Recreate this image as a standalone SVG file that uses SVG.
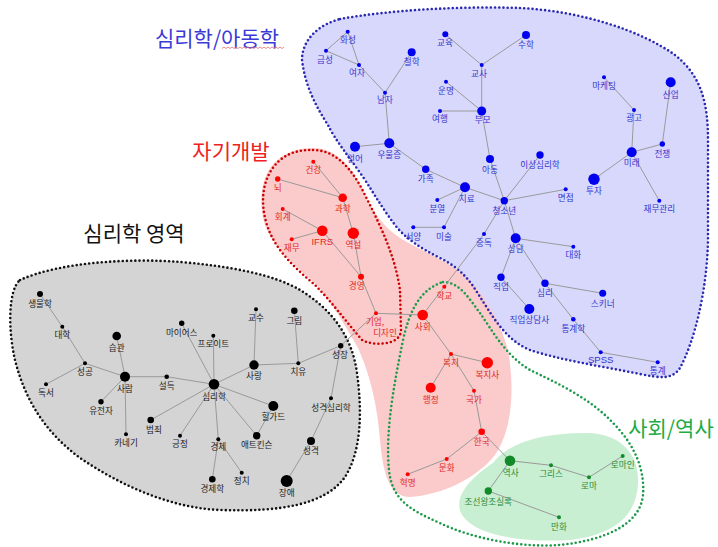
<svg xmlns="http://www.w3.org/2000/svg" width="718" height="547" viewBox="0 0 718 547">
<style>
text{font-family:"Noto Sans CJK KR","Noto Sans",sans-serif;font-size:8.6px;text-anchor:middle}
.title{font-size:21px}
.e line{stroke:#9a9a9a;stroke-width:1}
.b circle{fill:#0000ee}.b text{fill:#3434cc}
.r circle{fill:#ff0000}.r text{fill:#e02828}
.k circle{fill:#000}.k text{fill:#222}
.g circle{fill:#138a2a}.g text{fill:#2a8a3a}
.dot{fill:none;stroke-width:2.6;stroke-linecap:round;stroke-dasharray:0 4.2}
</style>
<rect width="718" height="547" fill="#fff"/>
<g id="regions">
<path d="M20,280 C60,262 130,258 180,262 C230,266 275,275 300,290 C330,308 352,335 357,373 C362,410 362,450 345,477 C325,505 280,512 220,510 C170,508 120,485 80,458 C45,432 25,400 15,360 C8,330 8,290 20,280 Z" fill="#d4d4d4"/>
<path d="M340,19 C390,10 460,6 520,8 C580,11 640,30 675,55 C700,75 708,100 708,140 L708,240 C707,290 695,340 680,368 C672,380 660,378 640,374 C600,366 560,360 530,350 C505,340 492,315 480,297 C470,280 460,268 440,258 C420,248 405,238 395,225 C380,205 375,195 363,177 C350,158 335,140 328,125 C315,105 305,85 302,60 C302,40 318,25 340,19 Z" fill="#d8d8fd"/>
<path d="M313,148 C335,148 352,165 365,195 C375,215 385,228 400,238 C420,250 440,258 455,268 C480,285 500,320 508,350 C515,390 512,430 495,455 C475,480 440,495 410,497 C390,497 383,475 380,440 C377,400 368,370 358,348 C345,325 330,300 318,286 C298,268 275,250 265,225 C257,200 262,170 280,158 C290,151 300,148 313,148 Z" fill="#fbcaca"/>
<path d="M493,463 C510,440 550,432 590,433 C622,435 640,455 638,485 C636,515 615,535 570,540 C520,543 475,535 462,515 C452,498 470,478 493,463 Z" fill="#c9efd3"/>
<path class="dot" stroke="#111" d="M20,280 C60,262 130,258 180,262 C230,266 275,275 300,290 C330,308 352,335 357,373 C362,410 362,450 345,477 C325,505 280,512 220,510 C170,508 120,485 80,458 C45,432 25,400 15,360 C8,330 8,290 20,280 Z"/>
<path class="dot" stroke="#2828b0" d="M340,19 C390,10 460,6 520,8 C580,11 640,30 675,55 C700,75 708,100 708,140 L708,240 C707,290 695,340 680,368 C672,380 660,378 640,374 C600,366 560,360 530,350 C505,340 492,315 480,297 C470,280 460,268 440,258 C420,248 405,238 395,225 C380,205 375,195 363,177 C350,158 335,140 328,125 C315,105 305,85 302,60 C302,40 318,25 340,19 Z"/>
<path class="dot" stroke="#cc0000" d="M313,150 C335,150 352,168 365,195 C380,225 395,255 400,290 L401,330 C401,346 372,346 362,340 C345,320 330,300 315,285 C295,268 275,250 267,225 C259,200 263,175 280,160 C290,152 300,150 313,150 Z"/>
<path class="dot" stroke="#1c9a4a" d="M443,282 C460,282 470,300 480,313 C492,330 505,355 530,370 C555,382 590,398 613,423 C635,445 645,470 643,495 C640,525 605,540 560,545 C520,548 470,538 440,523 C410,510 392,500 389,470 C385,430 395,380 402,345 C408,315 418,290 443,282 Z"/>
</g>
<g id="titles">
<text class="title" x="217" y="46" fill="#3a3ad8">심리학/아동학</text>
<path d="M222,48.5 l2,-1.5 l2,1.5 l2,-1.5 l2,1.5 l2,-1.5 l2,1.5 l2,-1.5 l2,1.5 l2,-1.5 l2,1.5 l2,-1.5 l2,1.5 l2,-1.5 l2,1.5 l2,-1.5 l2,1.5 l2,-1.5 l2,1.5 l2,-1.5 l2,1.5 l2,-1.5 l2,1.5 l2,-1.5 l2,1.5 l2,-1.5 l2,1.5 l2,-1.5 l2,1.5 l2,-1.5 l2,1.5 l2,-1.5" fill="none" stroke="#e07070" stroke-width="0.8"/>
<text class="title" x="231" y="159" fill="#ee2222">자기개발</text>
<text class="title" x="134" y="241" fill="#111">심리학 영역</text>
<text class="title" x="671" y="436" fill="#22aa44">사회/역사</text>
</g>
<g id="connectors" class="e">
<line x1="347.7" y1="31.7" x2="326" y2="50.7"/>
<line x1="347.7" y1="31.7" x2="359" y2="65"/>
<line x1="326" y1="50.7" x2="359" y2="65"/>
<line x1="359" y1="65" x2="385" y2="92.7"/>
<line x1="411.7" y1="52.3" x2="385" y2="92.7"/>
<line x1="385" y1="92.7" x2="389.3" y2="143.3"/>
<line x1="355" y1="146.7" x2="389.3" y2="143.3"/>
<line x1="389.3" y1="143.3" x2="425.7" y2="169.3"/>
<line x1="425.7" y1="169.3" x2="465" y2="187.3"/>
<line x1="437.3" y1="200" x2="465" y2="187.3"/>
<line x1="465" y1="187.3" x2="444" y2="227.3"/>
<line x1="413.3" y1="227.3" x2="444" y2="227.3"/>
<line x1="465" y1="187.3" x2="504.3" y2="200.7"/>
<line x1="445.3" y1="34.3" x2="481.7" y2="65"/>
<line x1="481.7" y1="65" x2="526" y2="35"/>
<line x1="481.7" y1="65" x2="481.7" y2="111"/>
<line x1="446" y1="81.7" x2="481.7" y2="111"/>
<line x1="440" y1="111" x2="481.7" y2="111"/>
<line x1="481.7" y1="111" x2="490" y2="159"/>
<line x1="490" y1="159" x2="504.3" y2="200.7"/>
<line x1="504.3" y1="200.7" x2="540" y2="155"/>
<line x1="504.3" y1="200.7" x2="565.7" y2="189.3"/>
<line x1="504.3" y1="200.7" x2="484" y2="234"/>
<line x1="504.3" y1="200.7" x2="515.7" y2="238.3"/>
<line x1="515.7" y1="238.3" x2="573.3" y2="246.7"/>
<line x1="515.7" y1="238.3" x2="501" y2="277.3"/>
<line x1="501" y1="277.3" x2="529.3" y2="309"/>
<line x1="515.7" y1="238.3" x2="545" y2="283.3"/>
<line x1="545" y1="283.3" x2="602.7" y2="293.3"/>
<line x1="545" y1="283.3" x2="573.3" y2="319.3"/>
<line x1="573.3" y1="319.3" x2="600.7" y2="352.3"/>
<line x1="600.7" y1="352.3" x2="657.7" y2="362.3"/>
<line x1="604" y1="77.3" x2="634" y2="110"/>
<line x1="634" y1="110" x2="631.7" y2="152.3"/>
<line x1="670.7" y1="82.3" x2="662.3" y2="144"/>
<line x1="631.7" y1="152.3" x2="662.3" y2="144"/>
<line x1="594" y1="179.3" x2="631.7" y2="152.3"/>
<line x1="631.7" y1="152.3" x2="659.3" y2="200.7"/>
<line x1="484" y1="234" x2="444.3" y2="286.7"/>
<line x1="313.3" y1="161.7" x2="342.7" y2="197.7"/>
<line x1="277.7" y1="179" x2="342.7" y2="197.7"/>
<line x1="342.7" y1="197.7" x2="353.3" y2="233.3"/>
<line x1="353.3" y1="233.3" x2="361" y2="276.7"/>
<line x1="282.7" y1="209" x2="322.3" y2="230.7"/>
<line x1="291.7" y1="239.3" x2="322.3" y2="230.7"/>
<line x1="322.3" y1="230.7" x2="361" y2="276.7"/>
<line x1="361" y1="276.7" x2="376" y2="313.3"/>
<line x1="376" y1="313.3" x2="422.7" y2="315"/>
<line x1="444.3" y1="286.7" x2="422.7" y2="315"/>
<line x1="422.7" y1="315" x2="451" y2="354"/>
<line x1="451" y1="354" x2="487.3" y2="362.7"/>
<line x1="451" y1="354" x2="430.7" y2="387.7"/>
<line x1="451" y1="354" x2="474" y2="390.7"/>
<line x1="474" y1="390.7" x2="481.7" y2="431.7"/>
<line x1="481.7" y1="431.7" x2="446.7" y2="459"/>
<line x1="446.7" y1="459" x2="407.7" y2="474.3"/>
<line x1="481.7" y1="431.7" x2="510" y2="460.7"/>
<line x1="510" y1="460.7" x2="551" y2="465.3"/>
<line x1="551" y1="465.3" x2="589" y2="477.3"/>
<line x1="589" y1="477.3" x2="622.7" y2="456"/>
<line x1="510" y1="460.7" x2="488.3" y2="491"/>
<line x1="488.3" y1="491" x2="559" y2="517.3"/>
<line x1="340.7" y1="345.7" x2="376" y2="313.3"/>
<line x1="40" y1="294" x2="62.3" y2="326.7"/>
<line x1="62.3" y1="326.7" x2="85" y2="363.3"/>
<line x1="85" y1="363.3" x2="46" y2="384.3"/>
<line x1="85" y1="363.3" x2="125" y2="376.7"/>
<line x1="116.7" y1="336" x2="125" y2="376.7"/>
<line x1="125" y1="376.7" x2="101" y2="401.7"/>
<line x1="125" y1="376.7" x2="126" y2="434.3"/>
<line x1="125" y1="376.7" x2="166.7" y2="376.7"/>
<line x1="166.7" y1="376.7" x2="214" y2="384.3"/>
<line x1="214" y1="384.3" x2="181.7" y2="323.3"/>
<line x1="214" y1="384.3" x2="213.3" y2="335.7"/>
<line x1="214" y1="384.3" x2="254" y2="365"/>
<line x1="214" y1="384.3" x2="273.3" y2="406"/>
<line x1="214" y1="384.3" x2="256.7" y2="435.7"/>
<line x1="214" y1="384.3" x2="218.3" y2="439.3"/>
<line x1="214" y1="384.3" x2="180" y2="435.7"/>
<line x1="214" y1="384.3" x2="150.7" y2="420"/>
<line x1="256" y1="309.3" x2="254" y2="365"/>
<line x1="254" y1="365" x2="298.3" y2="363.3"/>
<line x1="294.3" y1="310.7" x2="298.3" y2="363.3"/>
<line x1="298.3" y1="363.3" x2="340.7" y2="345.7"/>
<line x1="340.7" y1="345.7" x2="331" y2="398.3"/>
<line x1="331" y1="398.3" x2="311" y2="441"/>
<line x1="311" y1="441" x2="286.7" y2="481"/>
<line x1="273.3" y1="406" x2="256.7" y2="435.7"/>
<line x1="218.3" y1="439.3" x2="212.3" y2="479.3"/>
<line x1="218.3" y1="439.3" x2="241.7" y2="472.7"/>
</g>
<g id="nodes">
<g id="n-hwaseong" class="b"><circle cx="347.7" cy="31.7" r="2"/><text x="348" y="43.3">화성</text></g>
<g id="n-geumseong" class="b"><circle cx="326" cy="50.7" r="2"/><text x="325" y="63.3">금성</text></g>
<g id="n-yeoja" class="b"><circle cx="359" cy="65" r="2"/><text x="357" y="76">여자</text></g>
<g id="n-cheolhak" class="b"><circle cx="411.7" cy="52.3" r="4"/><text x="411.7" y="65">철학</text></g>
<g id="n-namja" class="b"><circle cx="385" cy="92.7" r="2"/><text x="385" y="103.3">남자</text></g>
<g id="n-gyoyuk" class="b"><circle cx="445.3" cy="34.3" r="3"/><text x="445" y="46">교육</text></g>
<g id="n-gyosa" class="b"><circle cx="481.7" cy="65" r="2"/><text x="479" y="76.6">교사</text></g>
<g id="n-suhak" class="b"><circle cx="526" cy="35" r="4"/><text x="526" y="48.3">수학</text></g>
<g id="n-unmyeong" class="b"><circle cx="446" cy="81.7" r="2"/><text x="446" y="94">운명</text></g>
<g id="n-yeohaeng" class="b"><circle cx="440" cy="111" r="2"/><text x="440" y="121.6">여행</text></g>
<g id="n-bumo" class="b"><circle cx="481.7" cy="111" r="4.5"/><text x="482.7" y="123.3">부모</text></g>
<g id="n-marketing" class="b"><circle cx="604" cy="77.3" r="2"/><text x="604" y="89.3">마케팅</text></g>
<g id="n-gwanggo" class="b"><circle cx="634" cy="110" r="2"/><text x="634" y="120.6">광고</text></g>
<g id="n-saneop" class="b"><circle cx="670.7" cy="82.3" r="5"/><text x="670.7" y="98.3">산업</text></g>
<g id="n-eoneo" class="b"><circle cx="355" cy="146.7" r="5"/><text x="355" y="161.6">언어</text></g>
<g id="n-uuljeung" class="b"><circle cx="389.3" cy="143.3" r="5"/><text x="389.3" y="157.6">우울증</text></g>
<g id="n-gajok" class="b"><circle cx="425.7" cy="169.3" r="3.7"/><text x="425.7" y="181.6">가족</text></g>
<g id="n-adong" class="b"><circle cx="490" cy="159" r="4"/><text x="490" y="173.3">아동</text></g>
<g id="n-chiryo" class="b"><circle cx="465" cy="187.3" r="5"/><text x="466.7" y="201.6">치료</text></g>
<g id="n-cheongsonyeon" class="b"><circle cx="504.3" cy="200.7" r="3.7"/><text x="504.3" y="214">청소년</text></g>
<g id="n-bunyeol" class="b"><circle cx="437.3" cy="200" r="2"/><text x="437.3" y="211.6">분열</text></g>
<g id="n-seoyang" class="b"><circle cx="413.3" cy="227.3" r="2"/><text x="413.3" y="240">서양</text></g>
<g id="n-misul" class="b"><circle cx="444" cy="227.3" r="2"/><text x="444" y="240">미술</text></g>
<g id="n-jungdok" class="b"><circle cx="484" cy="234" r="2"/><text x="484" y="246">중독</text></g>
<g id="n-sangdam" class="b"><circle cx="515.7" cy="238.3" r="5"/><text x="515.7" y="251.6">상담</text></g>
<g id="n-isangsimrihak" class="b"><circle cx="540" cy="155" r="3.7"/><text x="540" y="168.3">이상심리학</text></g>
<g id="n-myeonjeop" class="b"><circle cx="565.7" cy="189.3" r="2"/><text x="565.7" y="201">면접</text></g>
<g id="n-daehwa" class="b"><circle cx="573.3" cy="246.7" r="2"/><text x="573.3" y="258.3">대화</text></g>
<g id="n-mirae" class="b"><circle cx="631.7" cy="152.3" r="5"/><text x="631.7" y="166">미래</text></g>
<g id="n-jeonjaeng" class="b"><circle cx="662.3" cy="144" r="2.7"/><text x="662.3" y="156.6">전쟁</text></g>
<g id="n-tuja" class="b"><circle cx="594" cy="179.3" r="5.7"/><text x="594" y="194.3">투자</text></g>
<g id="n-jaemugwanri" class="b"><circle cx="659.3" cy="200.7" r="2"/><text x="659.3" y="212.3">재무관리</text></g>
<g id="n-jigeop" class="b"><circle cx="501" cy="277.3" r="3.7"/><text x="501" y="290">직업</text></g>
<g id="n-simri" class="b"><circle cx="545" cy="283.3" r="3.7"/><text x="545" y="296">심리</text></g>
<g id="n-skinner" class="b"><circle cx="602.7" cy="293.3" r="3.5"/><text x="602.7" y="306.6">스키너</text></g>
<g id="n-jigeopsangdamsa" class="b"><circle cx="529.3" cy="309" r="5"/><text x="529.3" y="322.6">직업상담사</text></g>
<g id="n-tonggyehak" class="b"><circle cx="573.3" cy="319.3" r="2.3"/><text x="573.3" y="331.6">통계학</text></g>
<g id="n-spss" class="b"><circle cx="600.7" cy="352.3" r="2"/><text x="600.7" y="363.3" style="font-family:'Liberation Sans',sans-serif;font-size:9.5px">SPSS</text></g>
<g id="n-tonggye" class="b"><circle cx="657.7" cy="362.3" r="2"/><text x="657.7" y="374.3">통계</text></g>
<g id="n-geongang" class="r"><circle cx="313.3" cy="161.7" r="2"/><text x="313.3" y="173.3">건강</text></g>
<g id="n-noe" class="r"><circle cx="277.7" cy="179" r="2.7"/><text x="277.7" y="191">뇌</text></g>
<g id="n-gwahak" class="r"><circle cx="342.7" cy="197.7" r="4.3"/><text x="342.7" y="211.6">과학</text></g>
<g id="n-hoegye" class="r"><circle cx="282.7" cy="209" r="2"/><text x="282.7" y="220">회계</text></g>
<g id="n-ifrs" class="r"><circle cx="322.3" cy="230.7" r="5.3"/><text x="322.3" y="245" style="font-family:'Liberation Sans',sans-serif;font-size:9.5px">IFRS</text></g>
<g id="n-yeokseol" class="r"><circle cx="353.3" cy="233.3" r="5.7"/><text x="353.3" y="248.3">역설</text></g>
<g id="n-jaemu" class="r"><circle cx="291.7" cy="239.3" r="2"/><text x="291.7" y="251">재무</text></g>
<g id="n-gyeongyeong" class="r"><circle cx="361" cy="276.7" r="3"/><text x="356.7" y="289.3">경영</text></g>
<g id="n-gieop" class="r"><circle cx="376" cy="313.3" r="2"/><text x="375" y="325">기업,</text><text x="385" y="336">디자인</text></g>
<g id="n-hakgyo" class="r"><circle cx="444.3" cy="286.7" r="2"/><text x="444.3" y="299">학교</text></g>
<g id="n-sahoe" class="r"><circle cx="422.7" cy="315" r="5.3"/><text x="422.7" y="330">사회</text></g>
<g id="n-bokji" class="r"><circle cx="451" cy="354" r="2"/><text x="451" y="366">복지</text></g>
<g id="n-bokjisa" class="r"><circle cx="487.3" cy="362.7" r="5.7"/><text x="487.3" y="377.6">복지사</text></g>
<g id="n-haengjeong" class="r"><circle cx="430.7" cy="387.7" r="5"/><text x="430.7" y="402.6">행정</text></g>
<g id="n-gukga" class="r"><circle cx="474" cy="390.7" r="2"/><text x="474" y="402.6">국가</text></g>
<g id="n-hanguk" class="r"><circle cx="481.7" cy="431.7" r="3.3"/><text x="481.7" y="445">한국</text></g>
<g id="n-munhwa" class="r"><circle cx="446.7" cy="459" r="2"/><text x="446.7" y="470.6">문화</text></g>
<g id="n-hyeongmyeong" class="r"><circle cx="407.7" cy="474.3" r="2"/><text x="407.7" y="486">혁명</text></g>
<g id="n-yeoksa" class="g"><circle cx="510" cy="460.7" r="5.3"/><text x="510.7" y="475.6">역사</text></g>
<g id="n-greece" class="g"><circle cx="551" cy="465.3" r="2"/><text x="551" y="476.6">그리스</text></g>
<g id="n-roma" class="g"><circle cx="589" cy="477.3" r="2"/><text x="589" y="489.3">로마</text></g>
<g id="n-romain" class="g"><circle cx="622.7" cy="456" r="2"/><text x="622.7" y="468.3">로마인</text></g>
<g id="n-joseon" class="g"><circle cx="488.3" cy="491" r="3.7"/><text x="488.3" y="505">조선왕조실록</text></g>
<g id="n-manhwa" class="g"><circle cx="559" cy="517.3" r="2"/><text x="559" y="530">만화</text></g>
<g id="n-saengmulhak" class="k"><circle cx="40" cy="294" r="3"/><text x="40" y="306.6">생물학</text></g>
<g id="n-daehak" class="k"><circle cx="62.3" cy="326.7" r="2"/><text x="62.3" y="337.6">대학</text></g>
<g id="n-seonggong" class="k"><circle cx="85" cy="363.3" r="2"/><text x="85" y="375">성공</text></g>
<g id="n-dokseo" class="k"><circle cx="46" cy="384.3" r="2"/><text x="46" y="396">독서</text></g>
<g id="n-seupgwan" class="k"><circle cx="116.7" cy="336" r="4.3"/><text x="116.7" y="351">습관</text></g>
<g id="n-saram" class="k"><circle cx="125" cy="376.7" r="5"/><text x="125" y="391.6">사람</text></g>
<g id="n-yujeonja" class="k"><circle cx="101" cy="401.7" r="2.7"/><text x="101" y="414.3">유전자</text></g>
<g id="n-carnegie" class="k"><circle cx="126" cy="434.3" r="2"/><text x="126" y="446">카네기</text></g>
<g id="n-seoldeuk" class="k"><circle cx="166.7" cy="376.7" r="2.3"/><text x="166.7" y="389.3">설득</text></g>
<g id="n-myers" class="k"><circle cx="181.7" cy="323.3" r="2.7"/><text x="181.7" y="335.6">마이어스</text></g>
<g id="n-beomjoe" class="k"><circle cx="150.7" cy="420" r="3.3"/><text x="154" y="432.6">범죄</text></g>
<g id="n-geungjeong" class="k"><circle cx="180" cy="435.7" r="2"/><text x="180" y="447.3">긍정</text></g>
<g id="n-simrihak" class="k"><circle cx="214" cy="384.3" r="5.3"/><text x="214" y="400">심리학</text></g>
<g id="n-freud" class="k"><circle cx="213.3" cy="335.7" r="2"/><text x="213.3" y="347.3">프로이트</text></g>
<g id="n-gyosu" class="k"><circle cx="256" cy="309.3" r="2"/><text x="256" y="320.6">교수</text></g>
<g id="n-geurim" class="k"><circle cx="294.3" cy="310.7" r="3.3"/><text x="294.3" y="324">그림</text></g>
<g id="n-sarang" class="k"><circle cx="254" cy="365" r="4.7"/><text x="254" y="379">사랑</text></g>
<g id="n-chiyu" class="k"><circle cx="298.3" cy="363.3" r="2"/><text x="298.3" y="375">치유</text></g>
<g id="n-seongjang" class="k"><circle cx="340.7" cy="345.7" r="2.7"/><text x="340" y="358.3">성장</text></g>
<g id="n-hilgard" class="k"><circle cx="273.3" cy="406" r="5"/><text x="273.3" y="420">힐가드</text></g>
<g id="n-atkinson" class="k"><circle cx="256.7" cy="435.7" r="3.7"/><text x="256.7" y="448.3">애트킨슨</text></g>
<g id="n-seonggyeoksimrihak" class="k"><circle cx="331" cy="398.3" r="2"/><text x="331" y="411">성격심리학</text></g>
<g id="n-seonggyeok" class="k"><circle cx="311" cy="441" r="4"/><text x="311" y="454.3">성격</text></g>
<g id="n-jangae" class="k"><circle cx="286.7" cy="481" r="6"/><text x="286.7" y="496">장애</text></g>
<g id="n-gyeongje" class="k"><circle cx="218.3" cy="439.3" r="2"/><text x="218.3" y="450">경제</text></g>
<g id="n-gyeongjehak" class="k"><circle cx="212.3" cy="479.3" r="3.3"/><text x="212.3" y="492.3">경제학</text></g>
<g id="n-jeongchi" class="k"><circle cx="241.7" cy="472.7" r="2"/><text x="241.7" y="484">정치</text></g>
</g>
</svg>
